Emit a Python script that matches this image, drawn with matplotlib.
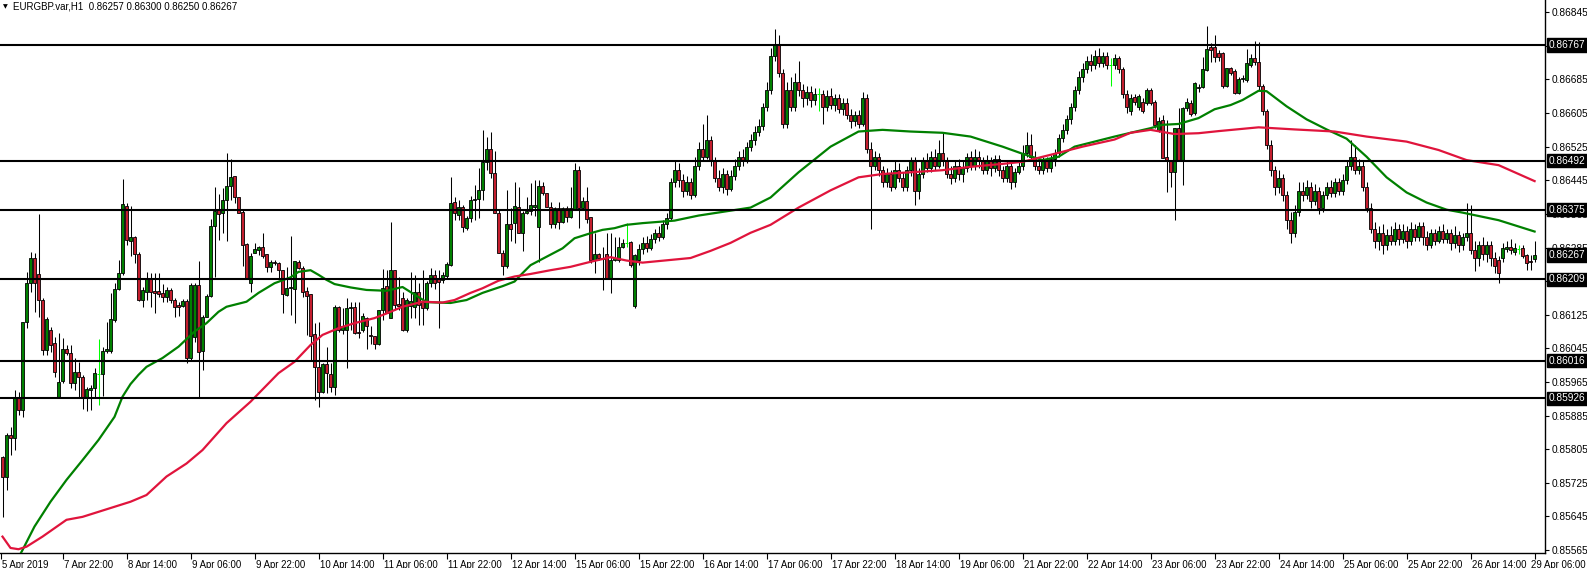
# EURGBP H1 candlestick chart (MetaTrader style) with two moving averages
# and horizontal support / resistance levels
import numpy as np
import matplotlib
matplotlib.use('Agg')
import matplotlib.pyplot as plt
from matplotlib.transforms import blended_transform_factory, ScaledTranslation

# ---------------------------------------------------------------
# 1. Data  (prices in points, 1 point = 0.00001)
# ---------------------------------------------------------------
opens = [
    85786, 85739, 85839, 85832, 85927, 85898, 86108, 86201, 86260, 86222, 86160, 86041, 86089, 86058, 85930, 85968,
    86044, 86034, 85963, 85989, 85977, 85930, 85946, 85951, 85985, 85985, 86039, 86039, 86113, 86186, 86224, 86384,
    86301, 86310, 86270, 86160, 86179, 86212, 86181, 86181, 86177, 86167, 86184, 86160, 86148, 86146, 86158, 86022,
    86072, 86196, 86039, 86120, 86170, 86337, 86374, 86367, 86398, 86431, 86455, 86405, 86370, 86293, 86201, 86272,
    86279, 86286, 86270, 86239, 86251, 86248, 86231, 86172, 86188, 86186, 86251, 86236, 86181, 86174, 86079, 86000,
    85941, 86008, 85984, 85953, 86143, 86089, 86089, 86141, 86143, 86084, 86089, 86117, 86077, 86074, 86055, 86136,
    86193, 86117, 86231, 86150, 86165, 86089, 86146, 86143, 86179, 86155, 86141, 86201, 86219, 86212, 86208, 86217,
    86243, 86393, 86362, 86381, 86331, 86355, 86398, 86400, 86422, 86489, 86520, 86462, 86367, 86272, 86241, 86341,
    86343, 86381, 86320, 86367, 86372, 86381, 86334, 86431, 86415, 86381, 86341, 86379, 86346, 86379, 86358, 86377,
    86469, 86379, 86396, 86358, 86255, 86270, 86260, 86270, 86212, 86255, 86255, 86286, 86296, 86298, 86145, 86255,
    86281, 86296, 86284, 86305, 86320, 86310, 86340, 86355, 86440, 86470, 86445, 86420, 86440, 86410, 86480, 86520,
    86500, 86540, 86490, 86450, 86430, 86460, 86425, 86455, 86480, 86500, 86490, 86525, 86540, 86560, 86575, 86620,
    86660, 86740, 86770, 86700, 86580, 86660, 86620, 86680, 86660, 86640, 86655, 86635, 86650, 86650, 86620, 86645,
    86625, 86640, 86615, 86630, 86600, 86585, 86600, 86580, 86640, 86520, 86480, 86500, 86470, 86440, 86460, 86430,
    86470, 86450, 86430, 86470, 86490, 86420, 86460, 86490, 86475, 86500, 86480, 86510, 86490, 86460, 86450, 86480,
    86460, 86475, 86500, 86480, 86500, 86490, 86470, 86490, 86475, 86495, 86470, 86450, 86480, 86440, 86465, 86480,
    86510, 86530, 86500, 86480, 86470, 86490, 86475, 86495, 86510, 86545, 86565, 86590, 86620, 86660, 86690, 86710,
    86730, 86720, 86740, 86725, 86740, 86720, 86720, 86735, 86710, 86650, 86611, 86643, 86620, 86632, 86630, 86660,
    86632, 86565, 86589, 86501, 86493, 86465, 86569, 86493, 86616, 86630, 86604, 86664, 86668, 86708, 86763, 86763,
    86747, 86747, 86669, 86712, 86706, 86653, 86685, 86684, 86719, 86735, 86727, 86669, 86610, 86530, 86470, 86430,
    86450, 86410, 86350, 86320, 86370, 86420, 86410, 86430, 86395, 86420, 86380, 86410, 86430, 86415, 86440, 86420,
    86445, 86480, 86500, 86470, 86480, 86430, 86380, 86330, 86300, 86320, 86290, 86315, 86300, 86330, 86305, 86325,
    86300, 86330, 86310, 86335, 86310, 86290, 86320, 86300, 86325, 86305, 86320, 86295, 86315, 86290, 86310, 86320,
    86280, 86260, 86290, 86270, 86290, 86260, 86255, 86260, 86281, 86287, 86275, 86281, 86283, 86267, 86252, 86257,
]
highs = [
    85790, 85844, 85858, 85946, 85941, 86108, 86227, 86274, 86271, 86365, 86165, 86120, 86096, 86072, 86082, 86070,
    86053, 86053, 86022, 86013, 85982, 85953, 85958, 85998, 86067, 86048, 86108, 86177, 86201, 86255, 86448, 86391,
    86384, 86312, 86274, 86191, 86227, 86224, 86224, 86224, 86198, 86191, 86189, 86165, 86155, 86162, 86162, 86200,
    86200, 86253, 86124, 86174, 86353, 86429, 86412, 86427, 86510, 86496, 86455, 86405, 86374, 86296, 86272, 86296,
    86289, 86320, 86270, 86255, 86255, 86251, 86231, 86239, 86312, 86253, 86255, 86241, 86191, 86174, 86105, 86108,
    86010, 86048, 86010, 86148, 86146, 86141, 86165, 86155, 86155, 86155, 86129, 86120, 86098, 86074, 86136, 86234,
    86231, 86346, 86231, 86215, 86180, 86165, 86227, 86219, 86200, 86231, 86205, 86236, 86231, 86231, 86227, 86251,
    86453, 86405, 86398, 86386, 86360, 86408, 86434, 86474, 86565, 86548, 86560, 86515, 86374, 86279, 86422, 86380,
    86441, 86429, 86372, 86405, 86439, 86446, 86446, 86441, 86415, 86393, 86381, 86393, 86381, 86384, 86429, 86486,
    86479, 86405, 86429, 86358, 86320, 86272, 86286, 86320, 86320, 86310, 86310, 86305, 86343, 86300, 86270, 86293,
    86310, 86312, 86318, 86330, 86335, 86350, 86368, 86450, 86490, 86485, 86460, 86455, 86450, 86500, 86535, 86580,
    86600, 86550, 86500, 86470, 86475, 86470, 86470, 86495, 86515, 86520, 86535, 86555, 86575, 86590, 86630, 86680,
    86760, 86805, 86790, 86710, 86680, 86690, 86700, 86730, 86675, 86670, 86670, 86665, 86665, 86660, 86660, 86665,
    86650, 86650, 86640, 86640, 86615, 86610, 86612, 86655, 86650, 86535, 86515, 86510, 86480, 86475, 86470, 86490,
    86485, 86465, 86480, 86500, 86500, 86475, 86500, 86510, 86515, 86520, 86540, 86560, 86500, 86480, 86490, 86495,
    86490, 86510, 86515, 86520, 86515, 86500, 86505, 86500, 86505, 86505, 86480, 86490, 86490, 86475, 86490, 86530,
    86560, 86555, 86515, 86495, 86500, 86500, 86505, 86520, 86555, 86580, 86600, 86630, 86670, 86705, 86725, 86740,
    86745, 86755, 86760, 86750, 86750, 86735, 86745, 86740, 86715, 86660, 86650, 86650, 86650, 86640, 86665, 86665,
    86635, 86595, 86600, 86589, 86493, 86569, 86616, 86620, 86640, 86635, 86680, 86675, 86738, 86812, 86771, 86791,
    86755, 86750, 86712, 86715, 86710, 86690, 86695, 86757, 86745, 86777, 86775, 86675, 86615, 86540, 86480, 86470,
    86460, 86420, 86370, 86385, 86440, 86440, 86445, 86440, 86435, 86430, 86420, 86440, 86445, 86450, 86450, 86460,
    86490, 86540, 86530, 86495, 86490, 86440, 86390, 86345, 86335, 86340, 86330, 86335, 86345, 86340, 86340, 86335,
    86345, 86340, 86345, 86345, 86325, 86330, 86330, 86335, 86340, 86330, 86330, 86335, 86325, 86320, 86392, 86385,
    86300, 86300, 86310, 86300, 86300, 86275, 86265, 86295, 86300, 86305, 86295, 86292, 86290, 86270, 86267, 86300,
]
lows = [
    85644, 85708, 85791, 85803, 85886, 85882, 86093, 86179, 86132, 86120, 86029, 86029, 86036, 85977, 85930, 85963,
    86029, 85951, 85946, 85930, 85901, 85896, 85898, 85930, 85910, 85932, 86034, 86034, 86108, 86184, 86219, 86291,
    86265, 86248, 86158, 86143, 86160, 86143, 86129, 86167, 86155, 86155, 86153, 86119, 86122, 86143, 86010, 86015,
    86060, 85929, 85993, 86120, 86167, 86214, 86303, 86320, 86301, 86398, 86391, 86367, 86241, 86212, 86179, 86272,
    86267, 86260, 86227, 86227, 86243, 86210, 86129, 86170, 86124, 86105, 86234, 86167, 86077, 86017, 85922, 85906,
    85939, 85939, 85941, 85934, 86084, 86079, 85998, 86089, 86079, 86070, 86084, 86043, 86055, 86043, 86053, 86113,
    86129, 86117, 86136, 86136, 86086, 86084, 86117, 86117, 86100, 86100, 86136, 86191, 86186, 86093, 86200, 86212,
    86241, 86350, 86350, 86322, 86327, 86346, 86350, 86355, 86398, 86470, 86450, 86367, 86272, 86220, 86236, 86300,
    86296, 86320, 86277, 86365, 86362, 86360, 86250, 86410, 86381, 86331, 86331, 86329, 86343, 86346, 86355, 86374,
    86331, 86374, 86343, 86248, 86224, 86255, 86184, 86210, 86177, 86253, 86250, 86284, 86286, 86238, 86141, 86243,
    86270, 86275, 86278, 86296, 86300, 86305, 86330, 86350, 86430, 86430, 86405, 86410, 86400, 86405, 86470, 86490,
    86495, 86480, 86440, 86420, 86415, 86410, 86420, 86445, 86470, 86480, 86485, 86515, 86530, 86550, 86565, 86610,
    86650, 86730, 86690, 86570, 86570, 86610, 86610, 86645, 86620, 86625, 86620, 86625, 86610, 86580, 86610, 86615,
    86610, 86605, 86600, 86590, 86570, 86575, 86570, 86575, 86510, 86330, 86470, 86455, 86430, 86430, 86420, 86425,
    86440, 86420, 86420, 86455, 86385, 86400, 86450, 86465, 86465, 86470, 86475, 86480, 86450, 86435, 86440, 86445,
    86440, 86465, 86470, 86470, 86475, 86460, 86460, 86455, 86465, 86455, 86440, 86440, 86425, 86430, 86460, 86470,
    86500, 86490, 86470, 86460, 86460, 86465, 86465, 86480, 86500, 86535, 86555, 86580, 86610, 86650, 86680, 86700,
    86705, 86710, 86715, 86715, 86710, 86670, 86710, 86700, 86640, 86605, 86600, 86625, 86612, 86605, 86625, 86625,
    86570, 86560, 86497, 86418, 86430, 86351, 86493, 86434, 86610, 86598, 86600, 86655, 86665, 86705, 86727, 86727,
    86730, 86665, 86668, 86695, 86650, 86650, 86680, 86680, 86715, 86720, 86660, 86600, 86520, 86455, 86410, 86415,
    86395, 86330, 86295, 86310, 86360, 86395, 86400, 86380, 86385, 86365, 86370, 86400, 86405, 86405, 86410, 86410,
    86435, 86470, 86460, 86460, 86420, 86370, 86320, 86285, 86280, 86270, 86280, 86290, 86290, 86290, 86295, 86285,
    86290, 86300, 86300, 86290, 86280, 86285, 86290, 86295, 86295, 86295, 86280, 86285, 86275, 86280, 86300, 86270,
    86230, 86240, 86255, 86250, 86240, 86225, 86200, 86250, 86275, 86270, 86268, 86270, 86260, 86232, 86232, 86250,
]
closes = [
    85739, 85839, 85832, 85927, 85898, 86108, 86201, 86260, 86201, 86160, 86041, 86115, 86053, 85989, 85965, 86044,
    86034, 85963, 85989, 85977, 85930, 85948, 85951, 85987, 85985, 86039, 86044, 86115, 86186, 86224, 86389, 86303,
    86310, 86270, 86160, 86184, 86212, 86179, 86177, 86174, 86167, 86184, 86160, 86143, 86143, 86158, 86022, 86196,
    86196, 86036, 86120, 86170, 86337, 86372, 86365, 86398, 86431, 86453, 86405, 86367, 86291, 86212, 86265, 86281,
    86286, 86265, 86239, 86251, 86248, 86231, 86174, 86188, 86191, 86253, 86236, 86179, 86170, 86074, 86000, 85941,
    86008, 85986, 85953, 86143, 86089, 86098, 86141, 86143, 86081, 86081, 86122, 86098, 86074, 86055, 86136, 86188,
    86129, 86231, 86148, 86146, 86089, 86160, 86158, 86179, 86148, 86141, 86201, 86219, 86201, 86203, 86219, 86246,
    86391, 86367, 86381, 86334, 86355, 86398, 86400, 86422, 86489, 86520, 86462, 86367, 86272, 86241, 86341, 86330,
    86384, 86320, 86367, 86372, 86386, 86386, 86431, 86415, 86381, 86341, 86379, 86346, 86379, 86358, 86379, 86469,
    86379, 86396, 86353, 86255, 86270, 86260, 86258, 86212, 86255, 86260, 86286, 86296, 86296, 86243, 86267, 86281,
    86296, 86284, 86305, 86320, 86310, 86340, 86355, 86440, 86470, 86445, 86420, 86440, 86410, 86480, 86520, 86500,
    86540, 86490, 86450, 86430, 86460, 86425, 86455, 86480, 86500, 86490, 86525, 86540, 86560, 86575, 86620, 86660,
    86740, 86770, 86700, 86580, 86660, 86620, 86680, 86660, 86640, 86655, 86635, 86650, 86650, 86620, 86645, 86625,
    86640, 86615, 86630, 86600, 86585, 86600, 86580, 86640, 86520, 86480, 86500, 86470, 86440, 86460, 86430, 86470,
    86450, 86430, 86470, 86490, 86420, 86460, 86490, 86475, 86500, 86480, 86510, 86490, 86460, 86450, 86480, 86460,
    86475, 86500, 86480, 86500, 86490, 86470, 86490, 86475, 86495, 86470, 86450, 86480, 86440, 86465, 86480, 86510,
    86530, 86500, 86480, 86470, 86490, 86475, 86495, 86510, 86545, 86565, 86590, 86620, 86660, 86690, 86710, 86730,
    86720, 86740, 86725, 86740, 86720, 86720, 86735, 86710, 86650, 86620, 86640, 86632, 86645, 86611, 86660, 86630,
    86577, 86587, 86497, 86493, 86465, 86569, 86493, 86616, 86632, 86603, 86676, 86668, 86709, 86757, 86755, 86738,
    86738, 86669, 86712, 86700, 86652, 86685, 86688, 86723, 86735, 86727, 86669, 86610, 86530, 86470, 86430, 86450,
    86410, 86350, 86320, 86370, 86420, 86410, 86430, 86395, 86420, 86380, 86410, 86430, 86415, 86440, 86420, 86445,
    86480, 86500, 86470, 86480, 86430, 86380, 86330, 86300, 86320, 86290, 86315, 86300, 86330, 86305, 86325, 86300,
    86330, 86310, 86335, 86310, 86290, 86320, 86300, 86325, 86305, 86320, 86295, 86315, 86290, 86310, 86320, 86280,
    86260, 86290, 86270, 86290, 86260, 86240, 86225, 86284, 86287, 86279, 86283, 86281, 86265, 86247, 86250, 86267,
]

# moving averages (bar index, value)
ma_fast_idx = [3, 5, 8, 12, 16, 20, 24, 28, 30, 32, 34, 36, 40, 44, 48, 51, 54, 56, 61, 64,
               68, 72, 74, 77, 79, 81, 83, 87, 91, 96, 100, 106, 112, 116, 120, 125, 128, 130, 132, 136,
               140, 143, 147, 150, 153, 156, 160, 168, 174, 187, 192, 199, 207, 214, 220, 227, 235, 242, 250, 255,
               260, 264, 268, 273, 278, 282, 287, 290, 294, 299, 303, 307, 310, 314, 316, 321, 326, 331, 336, 341,
               346, 351, 356, 361, 365, 374, 383]
ma_fast = [85530, 85565, 85621, 85680, 85732, 85779, 85827, 85882, 85930, 85960, 85982, 86001, 86022, 86049, 86085, 86105,
           86132, 86144, 86156, 86177, 86200, 86214, 86227, 86231, 86220, 86208, 86198, 86190, 86184, 86182, 86191, 86155,
           86153, 86160, 86177, 86193, 86204, 86224, 86243, 86263, 86283, 86307, 86319, 86327, 86331, 86339, 86343, 86349,
           86361, 86380, 86404, 86464, 86525, 86561, 86565, 86561, 86558, 86549, 86525, 86508, 86493, 86501, 86525, 86537,
           86549, 86558, 86569, 86577, 86579, 86593, 86614, 86624, 86636, 86658, 86657, 86621, 86590, 86566, 86544, 86501,
           86452, 86416, 86392, 86375, 86368, 86350, 86323]
ma_slow_idx = [0, 2, 4, 6, 10, 16, 20, 24, 28, 32, 36, 41, 46, 50, 56, 62, 69, 73, 77, 80,
               84, 88, 93, 96, 100, 105, 110, 113, 117, 120, 124, 128, 132, 137, 142, 147, 152, 156, 160, 172,
               177, 182, 187, 192, 199, 207, 214, 220, 227, 235, 242, 250, 255, 263, 270, 278, 282, 287, 293, 299,
               304, 314, 323, 333, 341, 351, 359, 366, 374, 383]
ma_slow = [85597, 85570, 85567, 85573, 85597, 85637, 85644, 85656, 85668, 85680, 85696, 85740, 85771, 85803, 85867, 85918,
           85986, 86013, 86053, 86077, 86093, 86105, 86117, 86128, 86144, 86156, 86154, 86160, 86177, 86188, 86206, 86216,
           86222, 86231, 86239, 86251, 86262, 86254, 86249, 86260, 86277, 86296, 86320, 86339, 86380, 86421, 86452, 86460,
           86464, 86469, 86477, 86484, 86489, 86508, 86525, 86542, 86558, 86565, 86555, 86557, 86562, 86571, 86566, 86561,
           86549, 86537, 86517, 86493, 86481, 86443]

levels = [86767, 86492, 86375, 86209, 86016, 85926]
last_price = 86267

time_labels = ['7 Apr 22:00', '8 Apr 14:00', '9 Apr 06:00', '9 Apr 22:00', '10 Apr 14:00',
               '11 Apr 06:00', '11 Apr 22:00', '12 Apr 14:00', '15 Apr 06:00', '15 Apr 22:00',
               '16 Apr 14:00', '17 Apr 06:00', '17 Apr 22:00', '18 Apr 14:00', '19 Apr 06:00',
               '21 Apr 22:00', '22 Apr 14:00', '23 Apr 06:00', '23 Apr 22:00', '24 Apr 14:00',
               '25 Apr 06:00', '25 Apr 22:00', '26 Apr 14:00', '29 Apr 06:00']
title = 'EURGBP.var,H1  0.86257 0.86300 0.86250 0.86267'

# ---------------------------------------------------------------
# 2. Prepare
# ---------------------------------------------------------------
PT = 1e-5
o = np.array(opens) * PT
h = np.array(highs) * PT
l = np.array(lows) * PT
c = np.array(closes) * PT
x = np.arange(len(o))

up = c > o
down = c < o
doji = c == o

BULL = '#008000'
BEAR = '#c41e2e'
FONT = 'Liberation Sans'

W, H = 1587, 568
fig = plt.figure(figsize=(W / 100, H / 100), dpi=100)
fig.patch.set_facecolor('white')
ax = fig.add_axes([0, 15 / H, 1545 / W, 1 - 15 / H])

# ---------------------------------------------------------------
# 3. Candles
# ---------------------------------------------------------------
ax.vlines(x[~doji], l[~doji], h[~doji], color='black', lw=0.75, zorder=2)
ax.vlines(x[doji], l[doji], h[doji], color='lime', lw=0.75, zorder=2)
ax.hlines(o[doji], x[doji] - 0.35, x[doji] + 0.35, color='lime', lw=0.75, zorder=2)

min_h = 1.5 * PT
ax.bar(x[up], np.maximum(c[up] - o[up], min_h), bottom=o[up], width=0.72,
       color=BULL, edgecolor='black', linewidth=0.6, zorder=3)
ax.bar(x[down], np.maximum(o[down] - c[down], min_h), bottom=c[down], width=0.72,
       color=BEAR, edgecolor='black', linewidth=0.6, zorder=3)

# moving averages
ax.plot(ma_fast_idx, np.array(ma_fast) * PT, color='#008000', lw=1.6, zorder=4)
ax.plot(ma_slow_idx, np.array(ma_slow) * PT, color='#e0143c', lw=1.6, zorder=4)

# horizontal levels
for lv in levels:
    ax.axhline(lv * PT, color='black', lw=1.5, zorder=5)

# ---------------------------------------------------------------
# 4. Axes styling
# ---------------------------------------------------------------
ax.set_xlim(-0.625, 385.6)
ax.set_ylim(0.85558, 0.86874)
ax.set_facecolor('white')
for s in ['left', 'top']:
    ax.spines[s].set_visible(False)
for s in ['right', 'bottom']:
    ax.spines[s].set_color('black')
    ax.spines[s].set_linewidth(1)

# price axis; labels sitting under a level box are hidden there, as in MT4
ax.yaxis.tick_right()
yt = np.arange(85565, 86846, 80)
hidden = [86765, 86205]
ax.set_yticks(yt * PT)
ax.set_yticklabels(['' if v in hidden else f'{v * PT:.5f}' for v in yt],
                   fontsize=7.3, family=FONT)
ax.tick_params(axis='y', length=3, width=0.8, pad=2, colors='black')

# time axis: a label every 16 bars
xt = [-0.5] + [15 + 16 * k for k in range(len(time_labels))]
ax.set_xticks(xt)
ax.set_xticklabels(['5 Apr 2019'] + time_labels, fontsize=6.9, family=FONT, ha='left')
ax.tick_params(axis='x', length=4, width=0.8, pad=1, colors='black')
xlabs = ax.get_xticklabels()
for lab in xlabs[:-1]:
    lab.set_transform(lab.get_transform() + ScaledTranslation(1 / 100, 0, fig.dpi_scale_trans))
# the last label is pulled in so it ends at the picture's edge
xlabs[-1].set_transform(xlabs[-1].get_transform() + ScaledTranslation(-4 / 100, 0, fig.dpi_scale_trans))

# boxed price labels
trans = blended_transform_factory(ax.transAxes, ax.transData)
for lv in levels + [last_price]:
    ax.annotate(f'{lv * PT:.5f}', xy=(1.0, lv * PT), xycoords=trans,
                xytext=(2.5, 0), textcoords='offset points',
                ha='left', va='center', fontsize=7.3, family=FONT, color='white',
                bbox=dict(boxstyle='square,pad=0.16', fc='black', ec='black'),
                annotation_clip=False, zorder=10)

# title
fig.text(3 / W, 1 - 6.5 / H, '\u25bc', fontsize=4.5, family='DejaVu Sans', va='center')
fig.text(13 / W, 1 - 6.5 / H, title, fontsize=7, family=FONT, va='center')

fig.savefig('out.png', dpi=100)
